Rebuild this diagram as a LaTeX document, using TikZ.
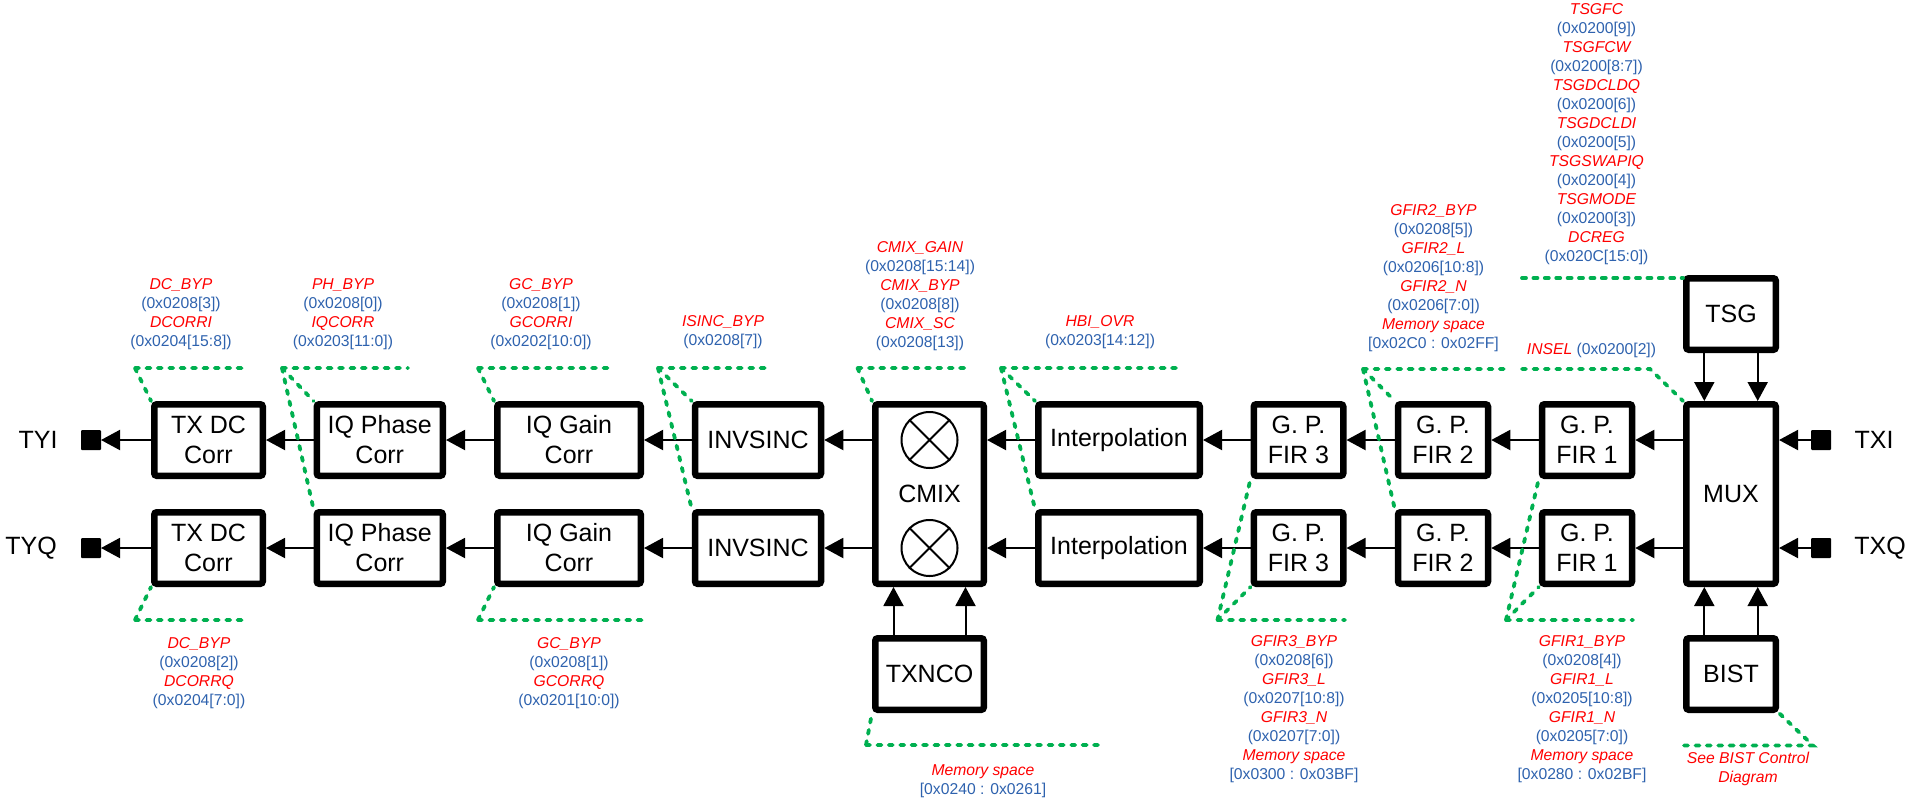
\documentclass[tikz,border=0pt]{standalone}
\usepackage{fontspec}
\setmainfont{Liberation Sans}
\usepackage{xcolor}
\definecolor{reg-red}{HTML}{FF0000}
\definecolor{reg-blue}{HTML}{2E62AE}
\definecolor{ctl-green}{HTML}{00B050}
\usetikzlibrary{arrows.meta}
\newcommand*\nam[1]{{\color{reg-red}\itshape #1}}
\newcommand*\adr[1]{{\color{reg-blue}#1}}
\begin{document}
\begin{tikzpicture}[x=1pt,y=-1pt,
	blk/.style={draw,line width=6.5pt,rounded corners=2.5pt,inner sep=0pt,align=center,minimum height=71.5pt,font=\fontsize{25}{30}\selectfont},
	sig/.style={-{Triangle[length=19pt,width=20pt]},line width=2pt},
	ctl/.style={ctl-green,line width=3.8pt,dash pattern=on 4pt off 7.4pt,line cap=round},
	port/.style={fill=black,rounded corners=1pt,minimum size=20pt,inner sep=0pt,outer sep=0pt},
	pin/.style={font=\fontsize{25}{30}\selectfont,inner sep=0pt},
	mix/.style={draw,circle,line width=2pt,minimum size=56pt,inner sep=0pt},
	reg/.style={align=center,inner sep=0pt,font=\fontsize{15.7}{19}\selectfont}]
	\useasboundingbox (0,0) rectangle (1908,801);
	% top row
	\node[blk,minimum width=108.5pt] (dcI) at (208.5,440) {TX DC\\Corr};
	\node[blk,minimum width=126pt] (phI) at (379.75,440) {IQ Phase\\Corr};
	\node[blk,minimum width=143.5pt] (gcI) at (569,440) {IQ Gain\\Corr};
	\node[blk,minimum width=126pt] (isI) at (758,440) {INVSINC};
	\node[blk,minimum width=161.5pt] (hbI) at (1119,440) {Interpolation};
	\node[blk,minimum width=89.5pt] (f3I) at (1298.5,440) {G. P.\\FIR 3};
	\node[blk,minimum width=90pt] (f2I) at (1443,440) {G. P.\\FIR 2};
	\node[blk,minimum width=90pt] (f1I) at (1587,440) {G. P.\\FIR 1};
	% bottom row
	\node[blk,minimum width=108.5pt] (dcQ) at (208.5,548) {TX DC\\Corr};
	\node[blk,minimum width=126pt] (phQ) at (379.75,548) {IQ Phase\\Corr};
	\node[blk,minimum width=143.5pt] (gcQ) at (569,548) {IQ Gain\\Corr};
	\node[blk,minimum width=126pt] (isQ) at (758,548) {INVSINC};
	\node[blk,minimum width=161.5pt] (hbQ) at (1119,548) {Interpolation};
	\node[blk,minimum width=89.5pt] (f3Q) at (1298.5,548) {G. P.\\FIR 3};
	\node[blk,minimum width=90pt] (f2Q) at (1443,548) {G. P.\\FIR 2};
	\node[blk,minimum width=90pt] (f1Q) at (1587,548) {G. P.\\FIR 1};
	% tall blocks
	\node[blk,minimum width=108.5pt,minimum height=179.5pt] (cmix) at (929.5,494) {CMIX};
	\node[blk,minimum width=89.5pt,minimum height=179.5pt] (mux) at (1731,494) {MUX};
	\node[blk,minimum width=108.5pt] (nco) at (929.5,674) {TXNCO};
	\node[blk,minimum width=89.5pt] (tsg) at (1731,314) {TSG};
	\node[blk,minimum width=89.5pt] (bist) at (1731,674) {BIST};
	\node[mix] (mixI) at (929.5,440) {};
	\node[mix] (mixQ) at (929.5,548) {};
	\draw[line width=2pt] (mixI.north west) -- (mixI.south east) (mixI.north east) -- (mixI.south west);
	\draw[line width=2pt] (mixQ.north west) -- (mixQ.south east) (mixQ.north east) -- (mixQ.south west);
	% ports
	\node[port] (tyi) at (91,440) {};
	\node[port] (tyq) at (91,548) {};
	\node[port] (txi) at (1821,440) {};
	\node[port] (txq) at (1821,548) {};
	\node[pin] (tyiL) at (38,440) {TYI};
	\node[pin] (tyqL) at (31,548) {TYQ};
	\node[pin] (txiL) at (1874,440) {TXI};
	\node[pin] (txqL) at (1880,548) {TXQ};
	% signal path
	\draw[sig] (dcI) -- (tyi);
	\draw[sig] (phI) -- (dcI);
	\draw[sig] (gcI) -- (phI);
	\draw[sig] (isI) -- (gcI);
	\draw[sig] (isI.east -| cmix.west) -- (isI.east);
	\draw[sig] (hbI.west) -- (hbI.west -| cmix.east);
	\draw[sig] (f3I) -- (hbI);
	\draw[sig] (f2I) -- (f3I);
	\draw[sig] (f1I) -- (f2I);
	\draw[sig] (f1I.east -| mux.west) -- (f1I.east);
	\draw[sig] (txi) -- (txi -| mux.east);
	\draw[sig] (dcQ) -- (tyq);
	\draw[sig] (phQ) -- (dcQ);
	\draw[sig] (gcQ) -- (phQ);
	\draw[sig] (isQ) -- (gcQ);
	\draw[sig] (isQ.east -| cmix.west) -- (isQ.east);
	\draw[sig] (hbQ.west) -- (hbQ.west -| cmix.east);
	\draw[sig] (f3Q) -- (hbQ);
	\draw[sig] (f2Q) -- (f3Q);
	\draw[sig] (f1Q) -- (f2Q);
	\draw[sig] (f1Q.east -| mux.west) -- (f1Q.east);
	\draw[sig] (txq) -- (txq -| mux.east);
	\draw[sig] ([xshift=-36pt]nco.north) -- ([xshift=-36pt]cmix.south);
	\draw[sig] ([xshift=36pt]nco.north) -- ([xshift=36pt]cmix.south);
	\draw[sig] ([xshift=-26.7pt]tsg.south) -- ([xshift=-26.7pt]mux.north);
	\draw[sig] ([xshift=26.7pt]tsg.south) -- ([xshift=26.7pt]mux.north);
	\draw[sig] ([xshift=-26.7pt]bist.north) -- ([xshift=-26.7pt]mux.south);
	\draw[sig] ([xshift=26.7pt]bist.north) -- ([xshift=26.7pt]mux.south);
	% control leaders
	\coordinate (vDcI) at (135,368); \coordinate (eDcI) at (245,368);
	\coordinate (vPh) at (282,368); \coordinate (ePh) at (408,368);
	\coordinate (vGcI) at (478,368); \coordinate (eGcI) at (610,368);
	\coordinate (vIs) at (658,368); \coordinate (eIs) at (767,368);
	\coordinate (vCm) at (857.5,368); \coordinate (eCm) at (966,368);
	\coordinate (vHb) at (1001,368); \coordinate (eHb) at (1179,368);
	\coordinate (vF2) at (1363,369); \coordinate (eF2) at (1505,369);
	\coordinate (sIn) at (1522,369); \coordinate (vIn) at (1650,369);
	\coordinate (sTs) at (1522,278);
	\coordinate (vDcQ) at (135,620); \coordinate (eDcQ) at (245,620);
	\coordinate (vGcQ) at (478,620); \coordinate (eGcQ) at (642,620);
	\coordinate (vF3) at (1217.5,620); \coordinate (eF3) at (1345,620);
	\coordinate (vF1) at (1506,620); \coordinate (eF1) at (1633,620);
	\coordinate (vNco) at (866,745); \coordinate (eNco) at (1100,745);
	\coordinate (sBi) at (1684,745.5); \coordinate (vBi) at (1813,745.5);
	\draw[ctl] (vDcI) -- (eDcI) (vDcI) -- (dcI.north west);
	\draw[ctl] (vPh) -- (ePh) (vPh) -- (phI.north west);
	\draw[ctl] (vPh) -- (phQ.north west);
	\draw[ctl] (vGcI) -- (eGcI) (vGcI) -- (gcI.north west);
	\draw[ctl] (vIs) -- (eIs) (vIs) -- (isI.north west);
	\draw[ctl] (vIs) -- (isQ.north west);
	\draw[ctl] (vCm) -- (eCm) (vCm) -- (cmix.north west);
	\draw[ctl] (vHb) -- (eHb) (vHb) -- (hbI.north west);
	\draw[ctl] (vHb) -- (hbQ.north west);
	\draw[ctl] (vF2) -- (eF2) (vF2) -- (f2I.north west);
	\draw[ctl] (vF2) -- (f2Q.north west);
	\draw[ctl] (sIn) -- (vIn) -- (mux.north west);
	\draw[ctl] (sTs) -- (sTs -| tsg.west);
	\draw[ctl] (vDcQ) -- (eDcQ) (vDcQ) -- (dcQ.south west);
	\draw[ctl] (vGcQ) -- (eGcQ) (vGcQ) -- (gcQ.south west);
	\draw[ctl] (vF3) -- (eF3) (vF3) -- (f3Q.south west);
	\draw[ctl] (vF3) -- (f3I.south west);
	\draw[ctl] (vF1) -- (eF1) (vF1) -- (f1Q.south west);
	\draw[ctl] (vF1) -- (f1I.south west);
	\draw[ctl] (vNco) -- (eNco) (vNco) -- (nco.south west);
	\draw[ctl] (sBi) -- (vBi) -- (bist.south east);
	% register text
	\node[reg] (rDcI) at (181,314) {\nam{DC\_BYP}\\\adr{(0x0208[3])}\\\nam{DCORRI}\\\adr{(0x0204[15:8])}};
	\node[reg] (rPh) at (343,314) {\nam{PH\_BYP}\\\adr{(0x0208[0])}\\\nam{IQCORR}\\\adr{(0x0203[11:0])}};
	\node[reg] (rGcI) at (541,314) {\nam{GC\_BYP}\\\adr{(0x0208[1])}\\\nam{GCORRI}\\\adr{(0x0202[10:0])}};
	\node[reg] (rIs) at (723,332) {\nam{ISINC\_BYP}\\\adr{(0x0208[7])}};
	\node[reg] (rCm) at (920,296) {\nam{CMIX\_GAIN}\\\adr{(0x0208[15:14])}\\\nam{CMIX\_BYP}\\\adr{(0x0208[8])}\\\nam{CMIX\_SC}\\\adr{(0x0208[13])}};
	\node[reg] (rHb) at (1100,332) {\nam{HBI\_OVR}\\\adr{(0x0203[14:12])}};
	\node[reg] (rF2) at (1433.5,278.5) {\nam{GFIR2\_BYP}\\\adr{(0x0208[5])}\\\nam{GFIR2\_L}\\\adr{(0x0206[10:8])}\\\nam{GFIR2\_N}\\\adr{(0x0206[7:0])}\\\nam{Memory space}\\\adr{[0x02C0 : 0x02FF]}};
	\node[reg] (rIn) at (1591.5,350) {\nam{INSEL} \adr{(0x0200[2])}};
	\node[reg] (rTs) at (1596.5,134.5) {\nam{TSGFC}\\\adr{(0x0200[9])}\\\nam{TSGFCW}\\\adr{(0x0200[8:7])}\\\nam{TSGDCLDQ}\\\adr{(0x0200[6])}\\\nam{TSGDCLDI}\\\adr{(0x0200[5])}\\\nam{TSGSWAPIQ}\\\adr{(0x0200[4])}\\\nam{TSGMODE}\\\adr{(0x0200[3])}\\\nam{DCREG}\\\adr{(0x020C[15:0])}};
	\node[reg] (rDcQ) at (199,673) {\nam{DC\_BYP}\\\adr{(0x0208[2])}\\\nam{DCORRQ}\\\adr{(0x0204[7:0])}};
	\node[reg] (rGcQ) at (569,673) {\nam{GC\_BYP}\\\adr{(0x0208[1])}\\\nam{GCORRQ}\\\adr{(0x0201[10:0])}};
	\node[reg] (rNco) at (983,781) {\nam{Memory space}\\\adr{[0x0240 : 0x0261]}};
	\node[reg] (rF3) at (1294,709) {\nam{GFIR3\_BYP}\\\adr{(0x0208[6])}\\\nam{GFIR3\_L}\\\adr{(0x0207[10:8])}\\\nam{GFIR3\_N}\\\adr{(0x0207[7:0])}\\\nam{Memory space}\\\adr{[0x0300 : 0x03BF]}};
	\node[reg] (rF1) at (1582,709) {\nam{GFIR1\_BYP}\\\adr{(0x0208[4])}\\\nam{GFIR1\_L}\\\adr{(0x0205[10:8])}\\\nam{GFIR1\_N}\\\adr{(0x0205[7:0])}\\\nam{Memory space}\\\adr{[0x0280 : 0x02BF]}};
	\node[reg] (rBi) at (1748,769) {\nam{See BIST Control}\\\nam{Diagram}};
\end{tikzpicture}
\end{document}
